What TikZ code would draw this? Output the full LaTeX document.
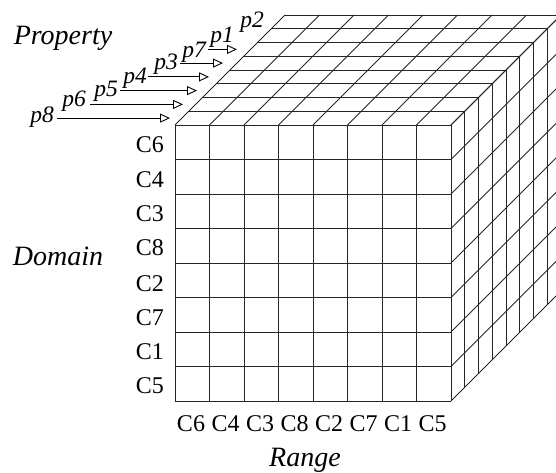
\documentclass[tikz,border=0pt]{standalone}
\usepackage{fontspec}
\setmainfont{Liberation Serif}
\usetikzlibrary{arrows.meta}
\begin{document}
\begin{tikzpicture}[x=1pt,y=-1pt,
  grid/.style={line width=0.9pt,black!85},
  plab/.style={font=\fontsize{23.5}{23.5}\selectfont\itshape,inner sep=0pt,anchor=base east},
  clab/.style={font=\fontsize{24}{24}\selectfont,inner sep=0pt,anchor=base east},
  rlab/.style={font=\fontsize{24}{24}\selectfont,inner sep=0pt,anchor=base},
  title/.style={font=\fontsize{28}{28}\selectfont\itshape,inner sep=0pt,anchor=base},
  parrow/.style={line width=0.9pt,-{Triangle[open,length=10pt,width=9pt]}}]
\useasboundingbox (0,0) rectangle (556,473);
\def\s{34.5}\def\d{13.75}
\begin{scope}
\clip (0,0) rectangle (556,473);
% front face
\foreach \i in {0,...,8}{
  \draw[grid] (175+\i*\s,125) -- (175+\i*\s,401);
  \draw[grid] (175,125+\i*\s) -- (451,125+\i*\s);
}
% top face
\foreach \k in {0,...,8}{
  \draw[grid] (175+\k*\d,125-\k*\d) -- (451+\k*\d,125-\k*\d);
}
\foreach \i in {0,...,8}{
  \draw[grid] (175+\i*\s,125) -- (285+\i*\s,15);
}
% right face
\foreach \k in {0,...,8}{
  \draw[grid] (451+\k*\d,125-\k*\d) -- (451+\k*\d,401-\k*\d);
}
\foreach \j in {0,...,8}{
  \draw[grid] (451,125+\j*\s) -- (561,15+\j*\s);
}
\end{scope}
% property arrows
\coordinate (a1s) at (57,118.1);  \coordinate (a1e) at (170,118.1);
\coordinate (a2s) at (90,104.4);  \coordinate (a2e) at (183,104.4);
\coordinate (a3s) at (120,90.6);  \coordinate (a3e) at (197,90.6);
\coordinate (a4s) at (148,76.9);  \coordinate (a4e) at (209,76.9);
\coordinate (a5s) at (180,63.1);  \coordinate (a5e) at (223,63.1);
\coordinate (a6s) at (208,49.4);  \coordinate (a6e) at (237,49.4);
\foreach \n in {1,...,6}{\draw[parrow] (a\n s) -- (a\n e);}
\node[plab] (p8) at (54,122.5) {p8};
\node[plab] (p6) at (86,107) {p6};
\node[plab] (p5) at (118,97) {p5};
\node[plab] (p4) at (147,83.5) {p4};
\node[plab] (p3) at (178,70) {p3};
\node[plab] (p7) at (206,57.5) {p7};
\node[plab] (p1) at (234,43) {p1};
\node[plab] (p2) at (264,28) {p2};
% domain labels
\node[clab] (d1) at (164,153) {C6};
\node[clab] (d2) at (164,187) {C4};
\node[clab] (d3) at (164,221.5) {C3};
\node[clab] (d4) at (164,255) {C8};
\node[clab] (d5) at (164,291) {C2};
\node[clab] (d6) at (164,325) {C7};
\node[clab] (d7) at (164,359) {C1};
\node[clab] (d8) at (164,393) {C5};
% range labels
\foreach \t [count=\i from 0] in {C6,C4,C3,C8,C2,C7,C1,C5}{
  \node[rlab] (r\i) at (191+\i*\s,431.5) {\t};
}
\node[title] (prop) at (63,45) {Property};
\node[title] (dom) at (58,265) {Domain};
\node[title] (rng) at (305,466) {Range};
\end{tikzpicture}
\end{document}
